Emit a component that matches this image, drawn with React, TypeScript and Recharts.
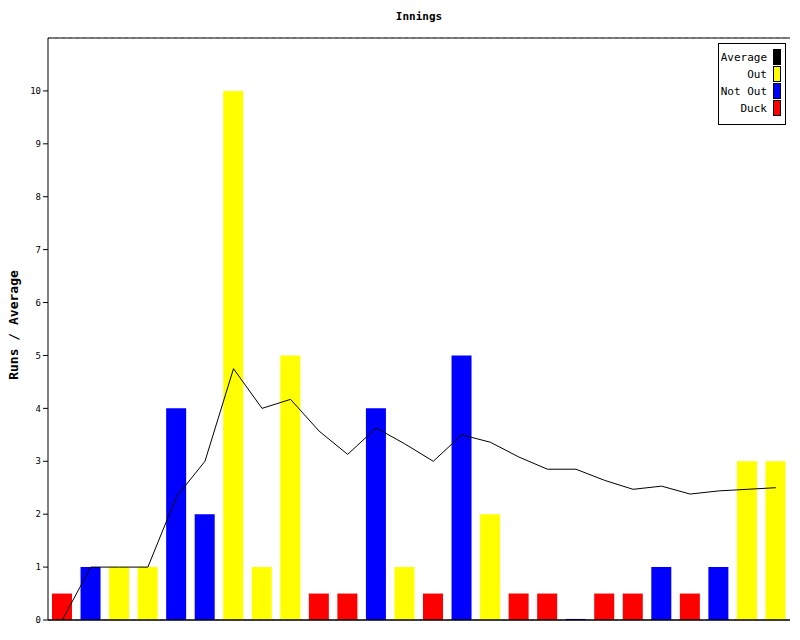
import React from 'react';
import { ComposedChart, Bar, Line, XAxis, YAxis, CartesianGrid, ReferenceLine, Cell } from 'recharts';

const innings = ['1','2','3','4','5','6','7','8','9','10','11','12','13','14','15','16','17','18','19','20','21','22','23','24','25','26'];
const barValues = [0.5,1,1,1,4,2,10,1,5,0.5,0.5,4,1,0.5,5,2,0.5,0.5,0.02,0.5,0.5,1,0.5,1,3,3];
const kinds = ['Duck','Not Out','Out','Out','Not Out','Not Out','Out','Out','Out','Duck','Duck','Not Out','Out','Duck','Not Out','Out','Duck','Duck','Not Out','Duck','Duck','Not Out','Duck','Not Out','Out','Out'];
const averages = [0,1,1,1,2.33,3,4.75,4,4.17,3.57,3.13,3.63,3.33,3,3.5,3.36,3.08,2.85,2.85,2.64,2.47,2.53,2.38,2.44,2.47,2.5];
const yTicks = [0,1,2,3,4,5,6,7,8,9,10];

const legendItems = [
  { label: 'Average', color: '#000000' },
  { label: 'Out', color: '#ffff00' },
  { label: 'Not Out', color: '#0000ff' },
  { label: 'Duck', color: '#ff0000' },
];
const kindColor: Record<string, string> = { 'Out': '#ffff00', 'Not Out': '#0000ff', 'Duck': '#ff0000' };

const data = innings.map((n, i) => ({ n, value: barValues[i], kind: kinds[i], avg: averages[i] }));

const mono = '"DejaVu Sans Mono", "Liberation Mono", monospace';

export default function App() {
  return (
    <div style={{ position: 'absolute', left: 0, top: 0, width: 800, height: 640, background: '#fff', fontFamily: mono, color: '#000' }}>
      <ComposedChart width={800} height={640} data={data} margin={{ top: 38, right: 10, bottom: 20, left: 0 }} barSize={20}>
        <CartesianGrid horizontal vertical={false} stroke="#c0c0c0" strokeDasharray="3 4" />
        <XAxis dataKey="n" height={0} tick={false} tickLine={false} axisLine={false} />
        <YAxis yAxisId="l" width={48} domain={[0, 11]} ticks={yTicks} interval={0}
          tick={{ fontSize: 9, fill: '#000', fontFamily: mono }} tickLine={{ stroke: '#000' }} tickSize={5}
          axisLine={{ stroke: '#000' }} allowDataOverflow />
        <YAxis yAxisId="r" orientation="right" width={0} domain={[0, 11]} tick={false} tickLine={false} axisLine={{ stroke: '#000' }} />
        <Bar yAxisId="l" dataKey="value" isAnimationActive={false}>
          {data.map((d, i) => <Cell key={i} fill={kindColor[d.kind]} />)}
        </Bar>
        <Line yAxisId="l" type="linear" dataKey="avg" stroke="#000" strokeWidth={1} dot={false} activeDot={false} isAnimationActive={false} />
        <ReferenceLine yAxisId="l" y={11} stroke="#000" />
        <ReferenceLine yAxisId="l" y={0} stroke="#000" strokeWidth={1.5} />
      </ComposedChart>
      <div style={{ position: 'absolute', left: 0, width: 838, top: 10, textAlign: 'center', fontSize: 11, fontWeight: 'bold' }}>Innings</div>
      <div style={{ position: 'absolute', left: 13, top: 325, transform: 'translate(-50%, -50%) rotate(-90deg)', whiteSpace: 'nowrap', fontSize: 13, fontWeight: 'bold' }}>Runs / Average</div>
      <div style={{ position: 'absolute', left: 718, top: 43, width: 66, height: 80, border: '1px solid #000', background: '#fff' }}>
        {legendItems.map((it, i) => (
          <div key={i} style={{ position: 'absolute', right: 4, top: 5 + i * 17, height: 16, display: 'flex', alignItems: 'center' }}>
            <span style={{ fontSize: 11, marginRight: 6 }}>{it.label}</span>
            <span style={{ width: 6, height: 14, background: it.color, border: '1px solid #000' }} />
          </div>
        ))}
      </div>
    </div>
  );
}
